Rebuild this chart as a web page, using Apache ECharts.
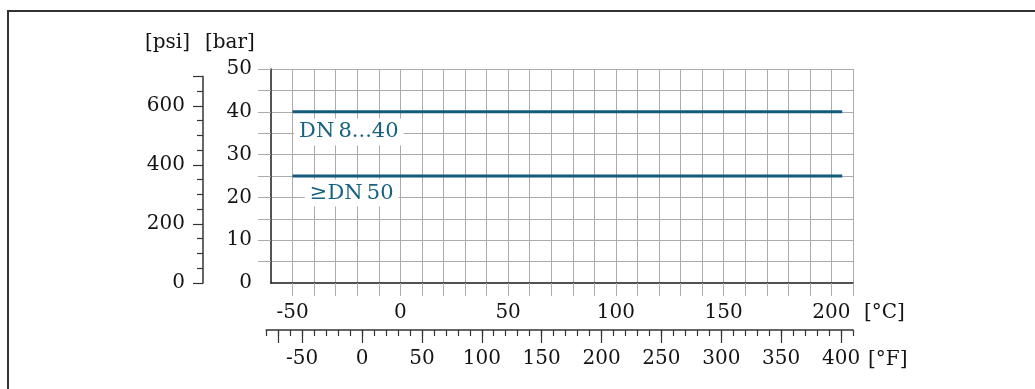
<!DOCTYPE html>
<html>
<head>
<meta charset="utf-8">
<script src="https://cdn.jsdelivr.net/npm/echarts@6/dist/echarts.min.js"></script>
<style>
  html, body { margin: 0; padding: 0; background: #fff; }
  #chart { width: 1035px; height: 389px; }
</style>
</head>
<body>
<div id="chart"></div>
<script>
// pressure curves: [°C, bar]
var dn8to40 = [[-50, 40], [205, 40]];
var dn50 = [[-50, 25], [205, 25]];
var curveLabels = [
  { name: 'DN\u20098...40', value: [-50, 35.3] },
  { name: '\u2265DN\u200950', value: [-45, 21] }
];

// °C axis
var cMin = -60, cMax = 210;
var cTicks = [-50, -40, -30, -20, -10, 0, 10, 20, 30, 40, 50, 60, 70, 80, 90, 100,
  110, 120, 130, 140, 150, 160, 170, 180, 190, 200, 210];
var cLabels = [-50, 0, 50, 100, 150, 200];

// bar axis
var barMax = 50;
var barTicks = [5, 10, 15, 20, 25, 30, 35, 40, 45, 50];
var barLabels = [0, 10, 20, 30, 40, 50];

// psi axis
var psiMax = 700;
var psiMajor = [0, 200, 400, 600, 700];
var psiMinor = [50, 100, 150, 250, 300, 350, 450, 500, 550, 650];
var psiLabels = [0, 200, 400, 600];

// °F axis
var fMin = -80, fMax = 410;
var fMajor = [-70, -50, 0, 50, 100, 150, 200, 250, 300, 350, 400];
var fLabels = [-50, 0, 50, 100, 150, 200, 250, 300, 350, 400];

var PSI_PER_BAR = 14.5038;

var FONT = '"DejaVu Serif", serif';
var TXT = '#141414';
var GRIDC = '#ababab';
var BLUE = '#135b7c';
var BLUE_TXT = '#17627f';

// main plot area
var G = { left: 271, top: 69, width: 582, height: 214 };
var bottomY = G.top + G.height;
function cToX(c) { return G.left + (c - cMin) / (cMax - cMin) * G.width; }
function fToC(f) { return (f - 32) / 1.8; }
var fLeft = cToX(fToC(fMin)), fRight = cToX(fToC(fMax));
var psiTop = bottomY - psiMax / PSI_PER_BAR * (G.height / barMax);

var myChart = echarts.init(document.getElementById('chart'));

var lbl = { fontFamily: FONT, fontSize: 20, color: TXT };

var option = {
  animation: false,
  backgroundColor: '#fff',
  grid: [
    { left: G.left, top: G.top, width: G.width, height: G.height },
    { left: fLeft, top: 329, width: fRight - fLeft, height: 1 },
    { left: 203, top: psiTop, width: 1, height: bottomY - psiTop }
  ],
  xAxis: [
    { // °C
      gridIndex: 0, type: 'value', position: 'bottom', min: cMin, max: cMax, interval: 10,
      axisLine: { show: true, onZero: false, lineStyle: { color: '#1a1a1a', width: 1.5 } },
      axisTick: { show: true, customValues: cTicks, length: 13, lineStyle: { color: GRIDC, width: 1 } },
      axisLabel: Object.assign({ customValues: cLabels, margin: 20 }, lbl),
      splitLine: { show: true, lineStyle: { color: GRIDC, width: 1 } }
    },
    { // °F minor
      gridIndex: 1, type: 'value', position: 'bottom', min: fMin, max: fMax, interval: 10,
      axisLine: { show: true, onZero: false, lineStyle: { color: '#333', width: 1.5 } },
      axisTick: { show: true, length: 6, lineStyle: { color: '#333', width: 1.2 } },
      axisLabel: { show: false },
      splitLine: { show: false }
    },
    { // °F major
      gridIndex: 1, type: 'value', position: 'bottom', min: fMin, max: fMax, interval: 10,
      axisLine: { show: false, onZero: false },
      axisTick: { show: true, customValues: fMajor, length: 13, lineStyle: { color: '#333', width: 1.2 } },
      axisLabel: Object.assign({ customValues: fLabels, margin: 19 }, lbl),
      splitLine: { show: false }
    },
    { gridIndex: 2, type: 'value', show: false }
  ],
  yAxis: [
    { // bar
      gridIndex: 0, type: 'value', position: 'left', min: 0, max: barMax, interval: 5,
      axisLine: { show: true, onZero: false, lineStyle: { color: '#1a1a1a', width: 1.5 } },
      axisTick: { show: true, customValues: barTicks, length: 13, lineStyle: { color: GRIDC, width: 1 } },
      axisLabel: Object.assign({ customValues: barLabels, margin: 19 }, lbl),
      splitLine: { show: true, lineStyle: { color: GRIDC, width: 1 } }
    },
    { gridIndex: 1, type: 'value', show: false },
    { // psi minor
      gridIndex: 2, type: 'value', position: 'left', min: 0, max: psiMax, interval: 50,
      axisLine: { show: true, onZero: false, lineStyle: { color: '#333', width: 1.5 } },
      axisTick: { show: true, customValues: psiMinor, length: 6, lineStyle: { color: '#333', width: 1.2 } },
      axisLabel: { show: false },
      splitLine: { show: false }
    },
    { // psi major
      gridIndex: 2, type: 'value', position: 'left', min: 0, max: psiMax, interval: 50,
      axisLine: { show: false, onZero: false },
      axisTick: { show: true, customValues: psiMajor, length: 10, lineStyle: { color: '#333', width: 1.2 } },
      axisLabel: Object.assign({ customValues: psiLabels, margin: 18 }, lbl),
      splitLine: { show: false }
    }
  ],
  series: [
    {
      name: 'DN 8...40', type: 'line', xAxisIndex: 0, yAxisIndex: 0, data: dn8to40,
      symbol: 'none', silent: true, lineStyle: { color: BLUE, width: 3 }
    },
    {
      name: '>=DN 50', type: 'line', xAxisIndex: 0, yAxisIndex: 0, data: dn50,
      symbol: 'none', silent: true, lineStyle: { color: BLUE, width: 3 }
    },
    {
      type: 'scatter', xAxisIndex: 0, yAxisIndex: 0, data: curveLabels,
      symbol: 'circle', symbolSize: 1, itemStyle: { color: 'rgba(255,255,255,0)' }, silent: true,
      z: 5,
      label: {
        show: true, position: 'right', distance: 1, formatter: '{b}',
        fontFamily: FONT, fontSize: 21, color: BLUE_TXT, opacity: 1,
        backgroundColor: '#fff', padding: [3, 5]
      }
    }
  ],
  graphic: [
    { type: 'rect', shape: { x: 8, y: 11, width: 1200, height: 600 },
      style: { fill: 'none', stroke: '#333', lineWidth: 2 }, silent: true },
    { type: 'text', x: 145, y: 43, style: { text: '[psi]', font: '20px ' + FONT, fill: TXT, verticalAlign: 'middle' } },
    { type: 'text', x: 205, y: 43, style: { text: '[bar]', font: '20px ' + FONT, fill: TXT, verticalAlign: 'middle' } },
    { type: 'text', x: 864, y: 313, style: { text: '[°C]', font: '20px ' + FONT, fill: TXT, verticalAlign: 'middle' } },
    { type: 'text', x: 868, y: 360, style: { text: '[°F]', font: '20px ' + FONT, fill: TXT, verticalAlign: 'middle' } }
  ]
};
myChart.setOption(option);
</script>
</body>
</html>
